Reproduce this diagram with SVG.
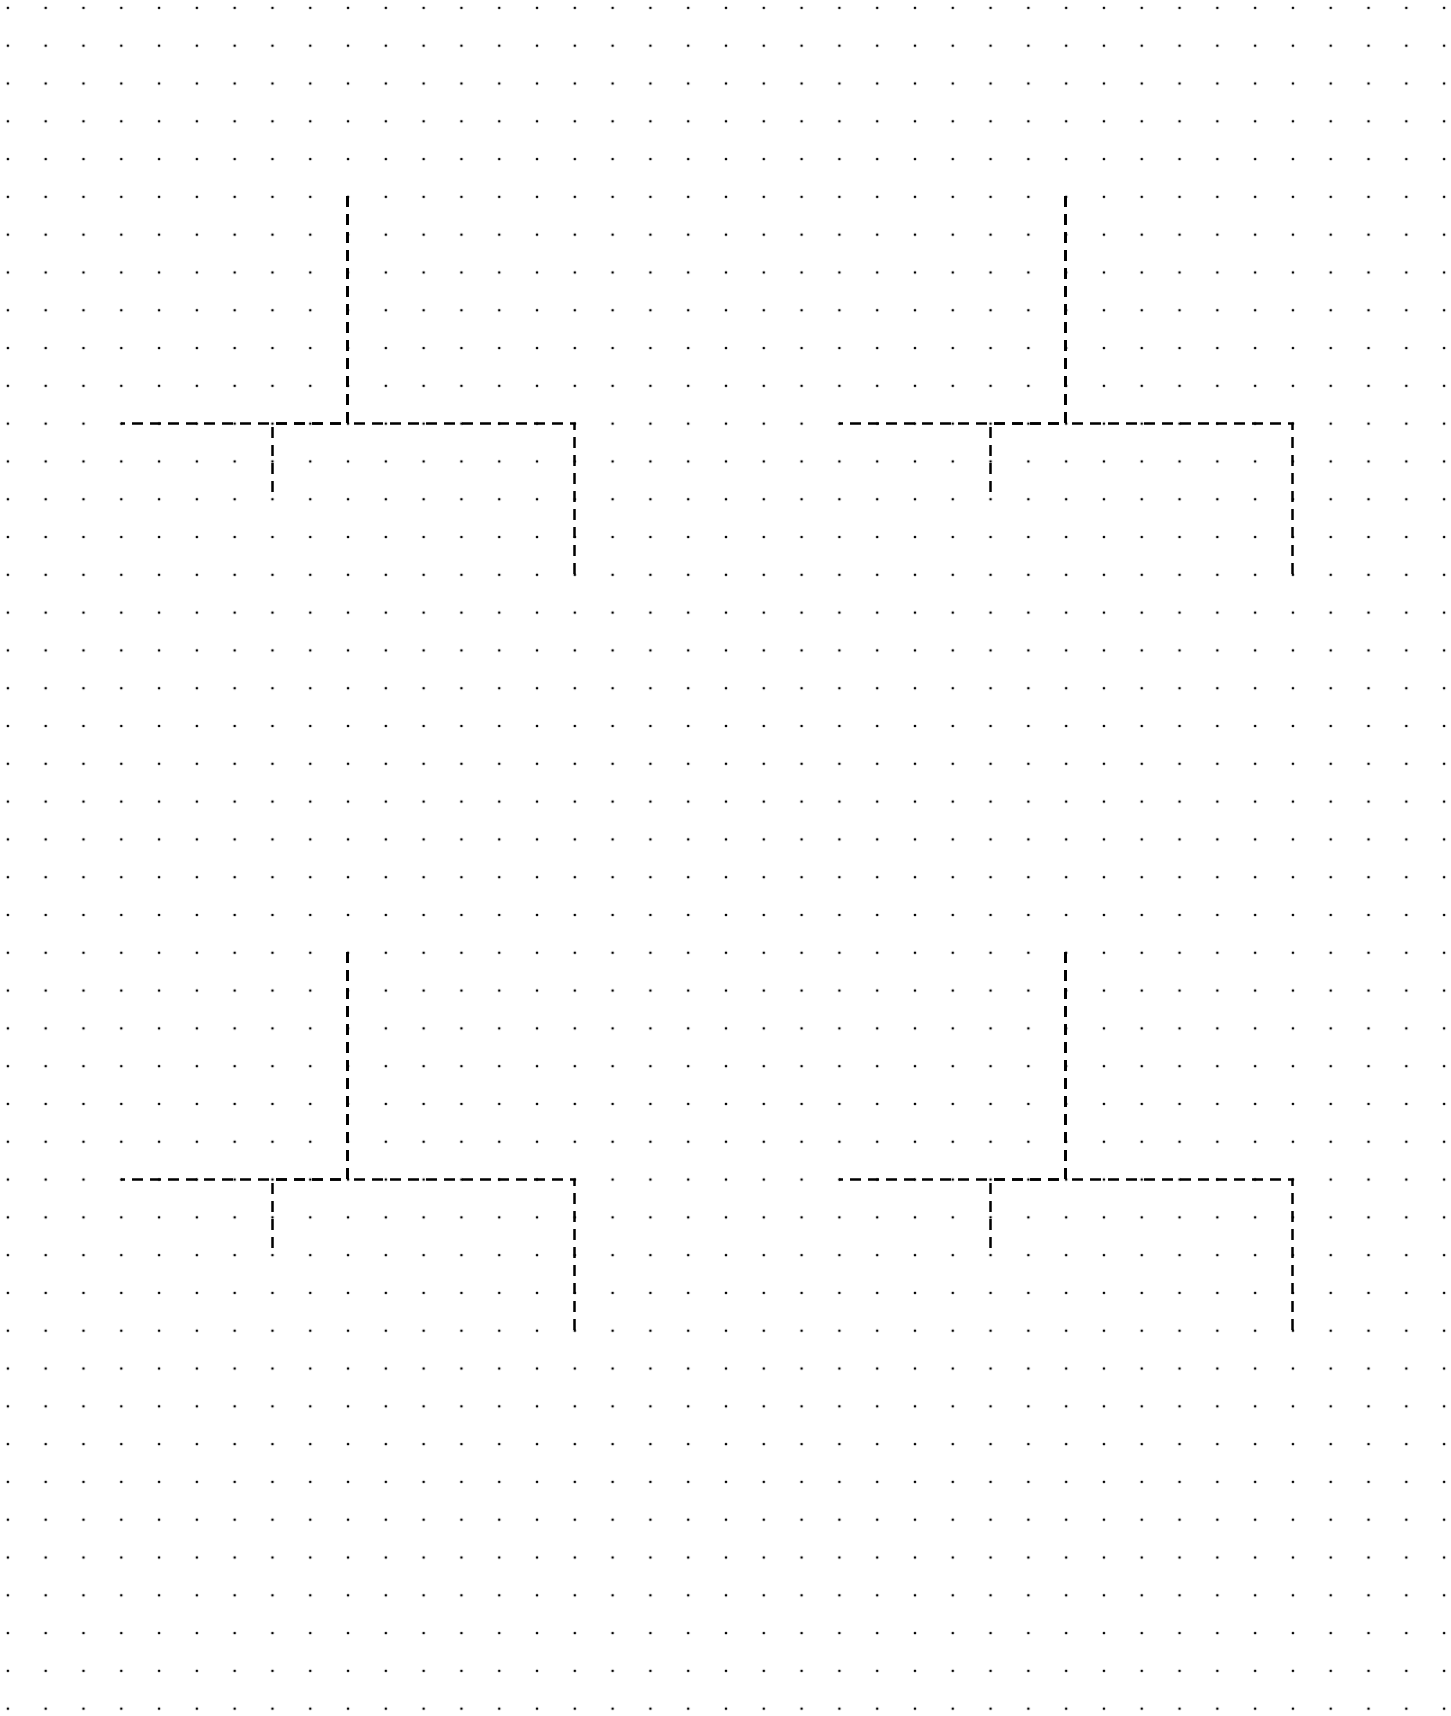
<svg xmlns="http://www.w3.org/2000/svg" width="1451" height="1716" viewBox="0 0 1451 1716">
  <style>
    .conn { fill: none; stroke: #000; stroke-width: 2.5; stroke-dasharray: 11 7; }
  </style>
  <defs>
    <pattern id="dots" patternUnits="userSpaceOnUse" x="-11" y="-11" width="37.795" height="37.795">
      <circle cx="18.8975" cy="18.8975" r="1.3" fill="#000"/>
    </pattern>
  </defs>
  <rect id="background" x="0" y="0" width="1451" height="1716" fill="#fff"/>
  <rect id="dot-grid" x="0" y="0" width="1451" height="1716" fill="url(#dots)"/>
  <g id="connectors">
    <g id="tree-top-left">
      <path class="conn" d="M347.5 196 V423.5 H121"/>
      <path class="conn" d="M347.5 196 V423.5 H272.5 V499"/>
      <path class="conn" d="M347.5 196 V423.5 H574.5 V575"/>
    </g>
    <g id="tree-top-right">
      <path class="conn" d="M1065.5 196 V423.5 H839"/>
      <path class="conn" d="M1065.5 196 V423.5 H990.5 V499"/>
      <path class="conn" d="M1065.5 196 V423.5 H1292.5 V575"/>
    </g>
    <g id="tree-bottom-left">
      <path class="conn" d="M347.5 952 V1179.5 H121"/>
      <path class="conn" d="M347.5 952 V1179.5 H272.5 V1255"/>
      <path class="conn" d="M347.5 952 V1179.5 H574.5 V1331"/>
    </g>
    <g id="tree-bottom-right">
      <path class="conn" d="M1065.5 952 V1179.5 H839"/>
      <path class="conn" d="M1065.5 952 V1179.5 H990.5 V1255"/>
      <path class="conn" d="M1065.5 952 V1179.5 H1292.5 V1331"/>
    </g>
  </g>
</svg>
